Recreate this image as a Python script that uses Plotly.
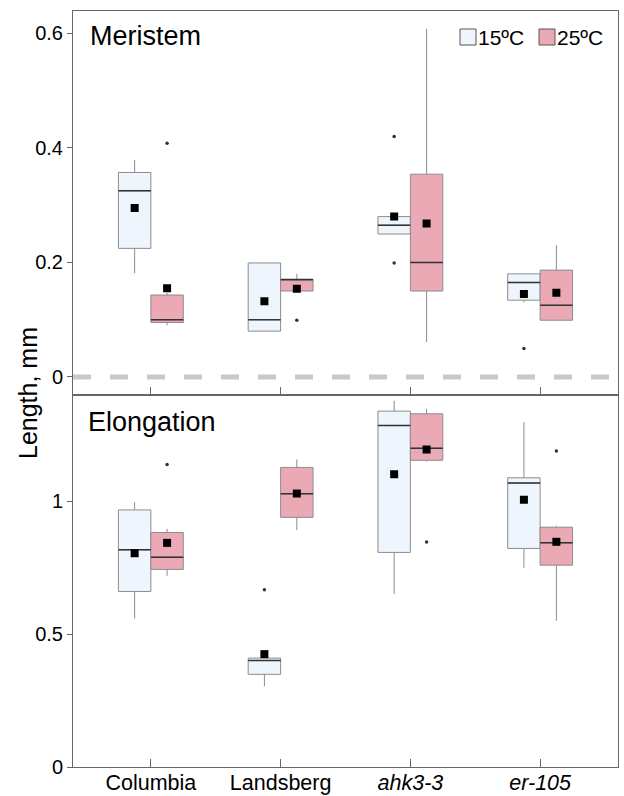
import plotly.graph_objects as go

groups = ["Columbia", "Landsberg", "<i>ahk3-3</i>", "<i>er-105</i>"]
temps = ["15ºC", "25ºC"]

# Meristem, 15ºC
mer15_q1 = [0.2245, 0.080, 0.2495, 0.134]
mer15_med = [0.325, 0.100, 0.265, 0.165]
mer15_q3 = [0.357, 0.199, 0.280, 0.180]
mer15_lo = [0.181, 0.080, 0.2495, 0.130]
mer15_hi = [0.379, 0.199, 0.280, 0.180]
mer15_mean = [0.295, 0.132, 0.280, 0.145]
mer15_out = [[], [], [0.42, 0.199], [0.0496]]

# Meristem, 25ºC
mer25_q1 = [0.095, 0.150, 0.150, 0.099]
mer25_med = [0.100, 0.170, 0.200, 0.125]
mer25_q3 = [0.143, 0.170, 0.354, 0.1865]
mer25_lo = [0.090, 0.150, 0.0607, 0.099]
mer25_hi = [0.147, 0.180, 0.608, 0.230]
mer25_mean = [0.155, 0.154, 0.268, 0.147]
mer25_out = [[0.408], [0.099], [], []]

# Elongation, 15ºC
elo15_q1 = [0.661, 0.349, 0.808, 0.823]
elo15_med = [0.818, 0.401, 1.286, 1.069]
elo15_q3 = [0.968, 0.410, 1.340, 1.089]
elo15_lo = [0.559, 0.304, 0.651, 0.750]
elo15_hi = [0.997, 0.410, 1.379, 1.299]
elo15_mean = [0.805, 0.425, 1.102, 1.006]
elo15_out = [[], [0.667], [], []]

# Elongation, 25ºC
elo25_q1 = [0.744, 0.940, 1.155, 0.760]
elo25_med = [0.790, 1.029, 1.200, 0.844]
elo25_q3 = [0.883, 1.128, 1.330, 0.903]
elo25_lo = [0.720, 0.892, 1.150, 0.550]
elo25_hi = [0.897, 1.158, 1.349, 0.908]
elo25_mean = [0.844, 1.030, 1.196, 0.848]
elo25_out = [[1.139], [], [0.847], [1.19]]

FILL = {"15ºC": "#EEF5FC", "25ºC": "#EBA9B6"}
OFFSET = {"15ºC": -0.125, "25ºC": 0.125}
BOXW = 0.25
EDGE = "#8c8c8c"
FONT = "Liberation Sans, Arial, Helvetica, sans-serif"

panels = [
    ("x", "y", {"15ºC": (mer15_q1, mer15_med, mer15_q3, mer15_lo, mer15_hi, mer15_mean, mer15_out),
                "25ºC": (mer25_q1, mer25_med, mer25_q3, mer25_lo, mer25_hi, mer25_mean, mer25_out)}),
    ("x2", "y2", {"15ºC": (elo15_q1, elo15_med, elo15_q3, elo15_lo, elo15_hi, elo15_mean, elo15_out),
                  "25ºC": (elo25_q1, elo25_med, elo25_q3, elo25_lo, elo25_hi, elo25_mean, elo25_out)}),
]

fig = go.Figure()

# zero reference line in the Meristem panel
fig.add_trace(go.Scatter(x=[-0.6, 3.6], y=[0, 0], mode="lines", xaxis="x", yaxis="y",
                         line=dict(color="#c8c8c8", width=5, dash="18px,19px"),
                         showlegend=False, hoverinfo="skip"))

for xa, ya, data in panels:
    for t in temps:
        q1, med, q3, lo, hi, mean, out = data[t]
        xs = [i + OFFSET[t] for i in range(len(groups))]
        fig.add_trace(go.Box(x=xs, q1=q1, median=med, q3=q3, lowerfence=lo, upperfence=hi,
                             width=BOXW, fillcolor=FILL[t], line=dict(color=EDGE, width=1),
                             whiskerwidth=0, boxpoints=False, xaxis=xa, yaxis=ya,
                             showlegend=False, hoverinfo="skip"))
        # darker median lines
        mx, my = [], []
        for x0, m in zip(xs, med):
            mx += [x0 - BOXW / 2, x0 + BOXW / 2, None]
            my += [m, m, None]
        fig.add_trace(go.Scatter(x=mx, y=my, mode="lines", xaxis=xa, yaxis=ya,
                                 line=dict(color="#333333", width=1.5),
                                 showlegend=False, hoverinfo="skip"))
        # outliers
        ox, oy = [], []
        for x0, vals in zip(xs, out):
            for v in vals:
                ox.append(x0)
                oy.append(v)
        fig.add_trace(go.Scatter(x=ox, y=oy, mode="markers", xaxis=xa, yaxis=ya,
                                 marker=dict(color="#333333", size=3.5, symbol="circle"),
                                 showlegend=False, hoverinfo="skip"))
        # means
        fig.add_trace(go.Scatter(x=xs, y=mean, mode="markers", xaxis=xa, yaxis=ya,
                                 marker=dict(color="black", size=8, symbol="square"),
                                 showlegend=False, hoverinfo="skip"))

# hand-made legend (key squares + labels), positioned in paper coordinates
PW, PH, ML, MT = 545.0, 756.0, 73.0, 11.0
def px(xp):
    return (xp - ML) / PW
def py(yp):
    return 1 - (yp - MT) / PH

legend_keys = [("15ºC", 460), ("25ºC", 539)]
shapes = []
annotations = []
for t, kx in legend_keys:
    shapes.append(dict(type="rect", xref="paper", yref="paper",
                       x0=px(kx), x1=px(kx + 16), y0=py(45), y1=py(29),
                       fillcolor=FILL[t], line=dict(color="#555555", width=1)))
    annotations.append(dict(text=t, xref="paper", yref="paper", x=px(kx + 16.5), y=py(37.5),
                            xanchor="left", yanchor="middle", showarrow=False,
                            font=dict(size=21), xshift=-1))

axis_common = dict(showline=True, linecolor="#666666", linewidth=1, mirror=True,
                   showgrid=False, zeroline=False, automargin=False)

annotations += [
    dict(text="Meristem", xref="paper", yref="paper", x=px(88), y=py(36),
         xanchor="left", yanchor="middle", showarrow=False, font=dict(size=27)),
    dict(text="Elongation", xref="paper", yref="paper", x=px(86), y=py(422),
         xanchor="left", yanchor="middle", showarrow=False, font=dict(size=27)),
    dict(text="Length, mm", xref="paper", yref="paper", x=px(28), y=py(393),
         xanchor="center", yanchor="middle", textangle=-90, showarrow=False,
         font=dict(size=25)),
]

fig.update_layout(
    width=624, height=796,
    margin=dict(l=73, r=6, t=11, b=29),
    plot_bgcolor="white", paper_bgcolor="white",
    font=dict(family=FONT, size=20, color="black"),
    boxmode="overlay",
    showlegend=False,
    xaxis=dict(range=[-0.6, 3.6], domain=[0, 1], anchor="y", tickvals=[0, 1, 2, 3],
               showticklabels=False, ticks="inside", ticklen=8, tickcolor="#666666",
               **axis_common),
    xaxis2=dict(range=[-0.6, 3.6], domain=[0, 1], anchor="y2", tickvals=[0, 1, 2, 3],
                ticktext=groups, ticks="inside", ticklen=8, tickcolor="#666666",
                ticklabelstandoff=-4,
                tickfont=dict(size=21.5), **axis_common),
    yaxis=dict(range=[-0.031, 0.639], domain=[0.4925, 1], anchor="x",
               tickvals=[0, 0.2, 0.4, 0.6], ticktext=["0", "0.2", "0.4", "0.6"],
               ticks="outside", ticklen=5, tickcolor="#666666", tickfont=dict(size=20),
               **axis_common),
    yaxis2=dict(range=[0, 1.402], domain=[0, 0.4925], anchor="x2",
                tickvals=[0, 0.5, 1], ticktext=["0", "0.5", "1"],
                ticks="outside", ticklen=5, tickcolor="#666666", tickfont=dict(size=20),
                **axis_common),
    shapes=shapes,
    annotations=annotations,
)

fig.write_html("out.html")
